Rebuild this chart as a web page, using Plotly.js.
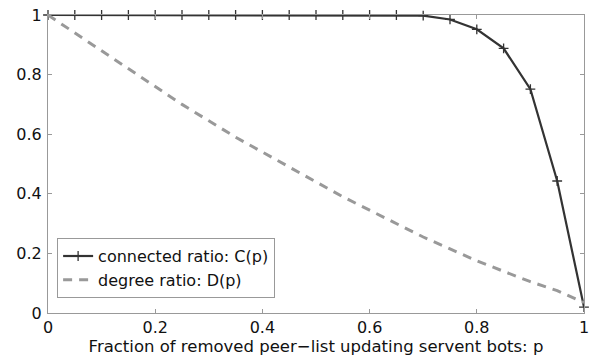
<!DOCTYPE html>
<html>
<head>
<meta charset="utf-8">
<script src="https://cdn.plot.ly/plotly-3.0.1.min.js"></script>
<style>html,body{margin:0;padding:0;background:#fff;} #chart{width:605px;height:356px;}</style>
</head>
<body>
<div id="chart"></div>
<script>
const pValues = [0, 0.05, 0.1, 0.15, 0.2, 0.25, 0.3, 0.35, 0.4, 0.45, 0.5, 0.55, 0.6, 0.65, 0.7, 0.75, 0.8, 0.85, 0.9, 0.95, 1];
const connectedRatio = [1, 1, 1, 1, 1, 1, 1, 1, 1, 1, 1, 1, 1, 1, 0.998, 0.985, 0.952, 0.888, 0.751, 0.443, 0.02];
const degreeRatio = [1, 0.94, 0.88, 0.82, 0.76, 0.70, 0.645, 0.59, 0.54, 0.49, 0.44, 0.39, 0.345, 0.30, 0.255, 0.215, 0.175, 0.14, 0.105, 0.075, 0.035];
const tickVals = [0, 0.2, 0.4, 0.6, 0.8, 1];
const tickLabels = ['0', '0.2', '0.4', '0.6', '0.8', '1'];
const seriesNames = ['connected ratio: C(p)', 'degree ratio: D(p)'];
const xTitle = 'Fraction of removed peer\u2212list updating servent bots: p';

const FONT = 'DejaVu Sans, Arial, sans-serif';
const traces = [
  {
    x: pValues, y: connectedRatio, name: seriesNames[0], type: 'scatter', mode: 'lines+markers',
    line: {color: '#333333', width: 2.2},
    marker: {symbol: 'cross-thin-open', size: 7, color: '#333333', line: {color: '#333333', width: 1.3}},
    cliponaxis: false
  },
  {
    x: pValues, y: degreeRatio, name: seriesNames[1], type: 'scatter', mode: 'lines',
    line: {color: '#999999', width: 3, dash: '9px,7px'},
    cliponaxis: false
  }
];
const axisCommon = {
  range: [0, 1], tickvals: tickVals, ticktext: tickLabels,
  ticks: 'inside', ticklen: 4, tickwidth: 1, tickcolor: '#999',
  showline: true, linecolor: '#999', linewidth: 1, mirror: 'ticks',
  showgrid: false, zeroline: false,
  tickfont: {family: FONT, size: 16, color: '#111'}
};
const layout = {
  width: 605, height: 356,
  margin: {l: 48, r: 21, t: 15, b: 43},
  paper_bgcolor: '#fff', plot_bgcolor: '#fff',
  showlegend: true,
  legend: {
    x: 0.017, y: 0.05, xanchor: 'left', yanchor: 'bottom',
    bgcolor: '#fff', bordercolor: '#999', borderwidth: 1,
    font: {family: FONT, size: 16, color: '#111'},
    tracegroupgap: 0, itemwidth: 30
  },
  xaxis: Object.assign({}, axisCommon, {
    ticklabelstandoff: 0,
    title: {text: xTitle, font: {family: FONT, size: 16.5, color: '#111'}, standoff: 2}
  }),
  yaxis: Object.assign({}, axisCommon, {ticklabelstandoff: 2})
};
Plotly.newPlot('chart', traces, layout, {displayModeBar: false, staticPlot: true});
</script>
</body>
</html>
